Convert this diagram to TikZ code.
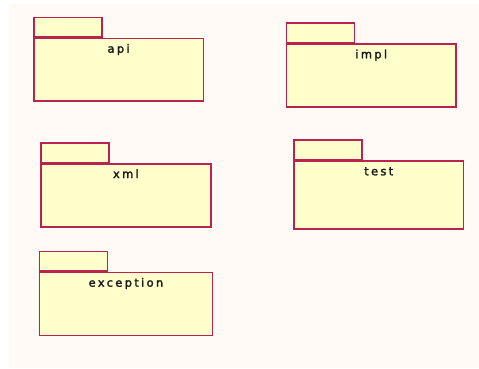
\documentclass[tikz,border=0pt]{standalone}
\usepackage{fontspec}
\newfontfamily\lblfont[LetterSpace=20,FakeBold=2]{DejaVu Sans}
\definecolor{pkgfill}{HTML}{FFFFCC}
\definecolor{pkgline}{HTML}{B8234F}
\definecolor{bgpaper}{HTML}{FFFAF5}
\tikzset{
  pkgbody/.style={draw=pkgline, fill=pkgfill, line width=1.5pt, rectangle, inner sep=0pt, anchor=north west},
  pkgtab/.style={draw=pkgline, fill=pkgfill, line width=1.5pt, rectangle, inner sep=0pt, anchor=south west, minimum width=68pt, minimum height=19.5pt},
  pkglbl/.style={font=\lblfont\fontsize{11.5pt}{13pt}\selectfont, text=black!90, inner sep=0pt, anchor=base}
}
% #1 name, #2 x, #3 y (body top-left), #4 width, #5 height, #6 label
\newcommand\umlpkg[6]{%
  \node[pkgbody, minimum width=#4pt, minimum height=#5pt] (#1) at (#2,#3) {};
  \node[pkgtab] (#1-tab) at (#1.north west) {};
  \node[pkglbl] (#1-lbl) at ([yshift=-15pt]#1.north) {#6};
}
\begin{document}
\begin{tikzpicture}[x=1pt,y=-1pt]
  \useasboundingbox (0,0) rectangle (479,369);
  \fill[white] (0,0) rectangle (479,369);
  \fill[bgpaper] (9,4) rectangle (479,368);
  \umlpkg{api}{33}{37.7}{169.7}{62.3}{api}
  \umlpkg{impl}{285.7}{43.3}{169.6}{63}{impl}
  \umlpkg{xml}{40.3}{163}{169.7}{63}{xml}
  \umlpkg{test}{293.3}{160.3}{169.4}{68}{test}
  \umlpkg{exception}{38.7}{271.7}{173}{63}{exception}
\end{tikzpicture}
\end{document}
